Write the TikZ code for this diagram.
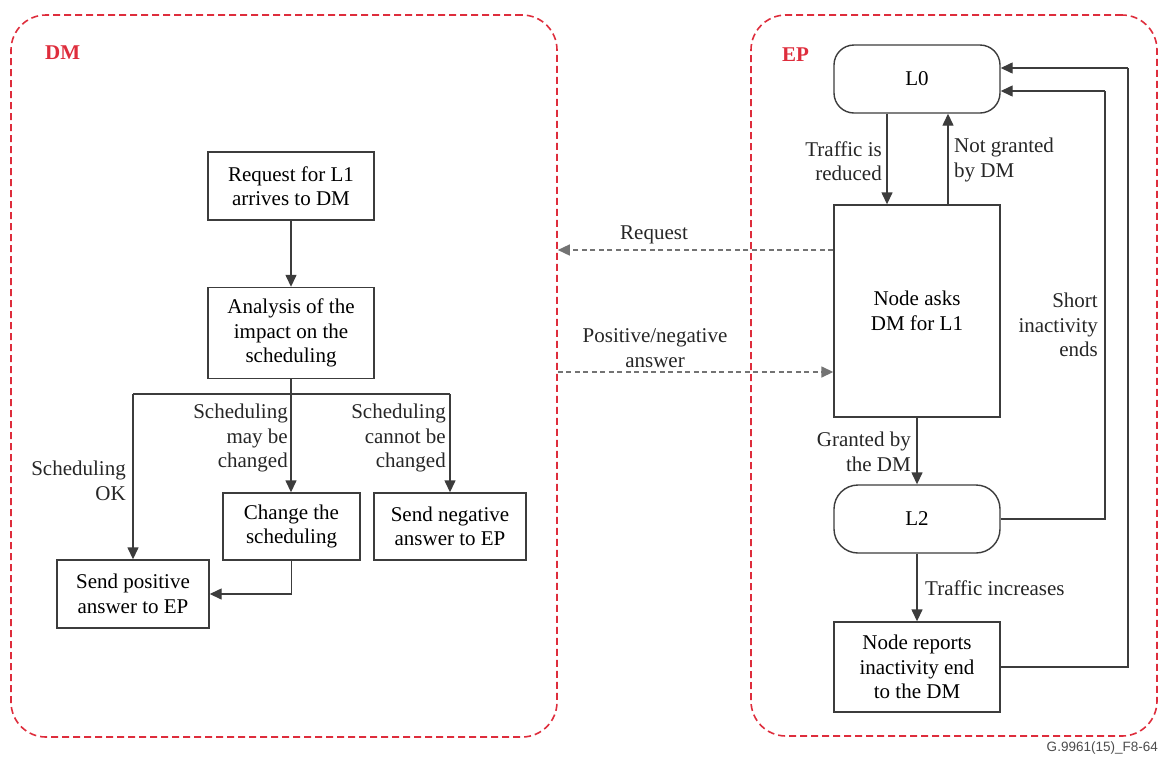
\documentclass[tikz,border=0pt]{standalone}
\usepackage{fontspec}
\setmainfont{Liberation Serif}
\newfontfamily\capsans{Liberation Sans}
\usetikzlibrary{arrows.meta,positioning}
\definecolor{zonered}{RGB}{222,45,60}
\definecolor{linegrey}{RGB}{60,60,60}
\tikzset{
  zone/.style={draw=zonered, dashed, dash pattern=on 7pt off 4pt, line width=1.6pt, rounded corners=35pt, inner sep=0pt},
  zonelabel/.style={text=zonered, font=\fontsize{21}{24}\selectfont\bfseries, anchor=west, inner sep=0pt},
  box/.style={draw=linegrey, line width=1.4pt, fill=white, align=center, inner sep=0pt, font=\fontsize{21}{24.5}\selectfont},
  statebox/.style={box, rounded corners=20pt},
  lbl/.style={inner sep=0pt, font=\fontsize{21}{24.5}\selectfont, text=black!85},
  arr/.style={draw=linegrey, line width=1.4pt, -{Triangle[width=11pt,length=12pt]}},
  plain/.style={draw=linegrey, line width=1.4pt},
  msg/.style={draw=black!55, line width=1.5pt, dash pattern=on 5pt off 3.5pt, -{Triangle[width=11pt,length=12pt]}}
}
\begin{document}
\begin{tikzpicture}[x=1pt,y=-1pt]
\useasboundingbox (0,0) rectangle (1164,756);
% zones
\node[zone, minimum width=546pt, minimum height=722pt] (dm) at (284,376) {};
\node[zone, minimum width=406pt, minimum height=721pt] (ep) at (954,375.5) {};
\node[zonelabel] (dmlbl) at (45,53) {DM};
\node[zonelabel] (eplbl) at (782,55) {EP};
% DM side
\node[box, minimum width=166pt, minimum height=68pt] (req) at (291,186) {Request for L1\\arrives to DM};
\node[box, minimum width=166pt, minimum height=91pt] (ana) at (291,333) {Analysis of the\\impact on the\\scheduling};
\node[box, minimum width=137pt, minimum height=67pt] (chg) at (291.5,526.5) {Change the\\scheduling};
\node[box, minimum width=152pt, minimum height=67pt] (neg) at (450,526.5) {Send negative\\answer to EP};
\node[box, minimum width=152pt, minimum height=68pt] (pos) at (133,594) {Send positive\\answer to EP};
\coordinate (bl) at (133,394);
\coordinate (br) at (450,394);
\draw[arr] (req) -- (ana);
\draw[arr] (ana.south) -- (ana.south |- chg.north);
\draw[plain] (bl) -- (br);
\draw[arr] (bl) -- (pos.north);
\draw[arr] (br) -- (neg.north);
\draw[arr] (chg.south) |- (pos.east);
\node[lbl, anchor=east, align=right] (lok) at (126,481) {Scheduling\\OK};
\node[lbl, anchor=east, align=right] (lmay) at (288,438) {Scheduling\\may be\\changed};
\node[lbl, anchor=east, align=right] (lcan) at (446,438) {Scheduling\\cannot be\\changed};
% EP side
\node[statebox, minimum width=166pt, minimum height=68pt] (l0) at (917,79) {L0};
\node[box, minimum width=166pt, minimum height=212pt] (ask) at (917,311) {Node asks\\DM for L1};
\node[statebox, rounded corners=24pt, minimum width=166pt, minimum height=68pt] (l2) at (917,519) {L2};
\node[box, minimum width=166pt, minimum height=90pt] (rep) at (917,667) {Node reports\\inactivity end\\to the DM};
\draw[arr] ([xshift=-30pt]l0.south) -- ([xshift=-30pt]ask.north);
\draw[arr] ([xshift=31pt]ask.north) -- ([xshift=31pt]l0.south);
\node[lbl, anchor=east, align=right] (ltr) at (882,161) {Traffic is\\reduced};
\node[lbl, anchor=west, align=left] (lng) at (954,160) {Not granted\\by DM};
\draw[arr] (ask) -- (l2);
\node[lbl, anchor=east, align=right] (lgr) at (911,452) {Granted by\\the DM};
\draw[arr] (l2) -- (rep);
\node[lbl, anchor=west] (lti) at (925,588) {Traffic increases};
\coordinate (c1) at (1105,91);
\coordinate (c2) at (1128,68);
\draw[plain] (l2.east) -| (c1);
\draw[arr] (c1) -- (c1 -| l0.east);
\draw[plain] (rep.east) -| (c2);
\draw[arr] (c2) -- (c2 -| l0.east);
\node[lbl, anchor=east, align=right] (lsh) at (1098,325) {Short\\inactivity\\ends};
% messages
\draw[msg] (ask.west |- 0,250) -- (dm.east |- 0,250);
\node[lbl] (lreq) at (654,235) {Request};
\draw[msg] (dm.east |- 0,372) -- (ask.west |- 0,372);
\node[lbl, align=center] (lans) at (655,348) {Positive/negative\\answer};
% caption
\node[inner sep=0pt, anchor=east, text=black!70, font=\capsans\fontsize{13.5}{16}\selectfont] (cap) at (1158,748) {G.9961(15)\_F8-64};
\end{tikzpicture}
\end{document}
